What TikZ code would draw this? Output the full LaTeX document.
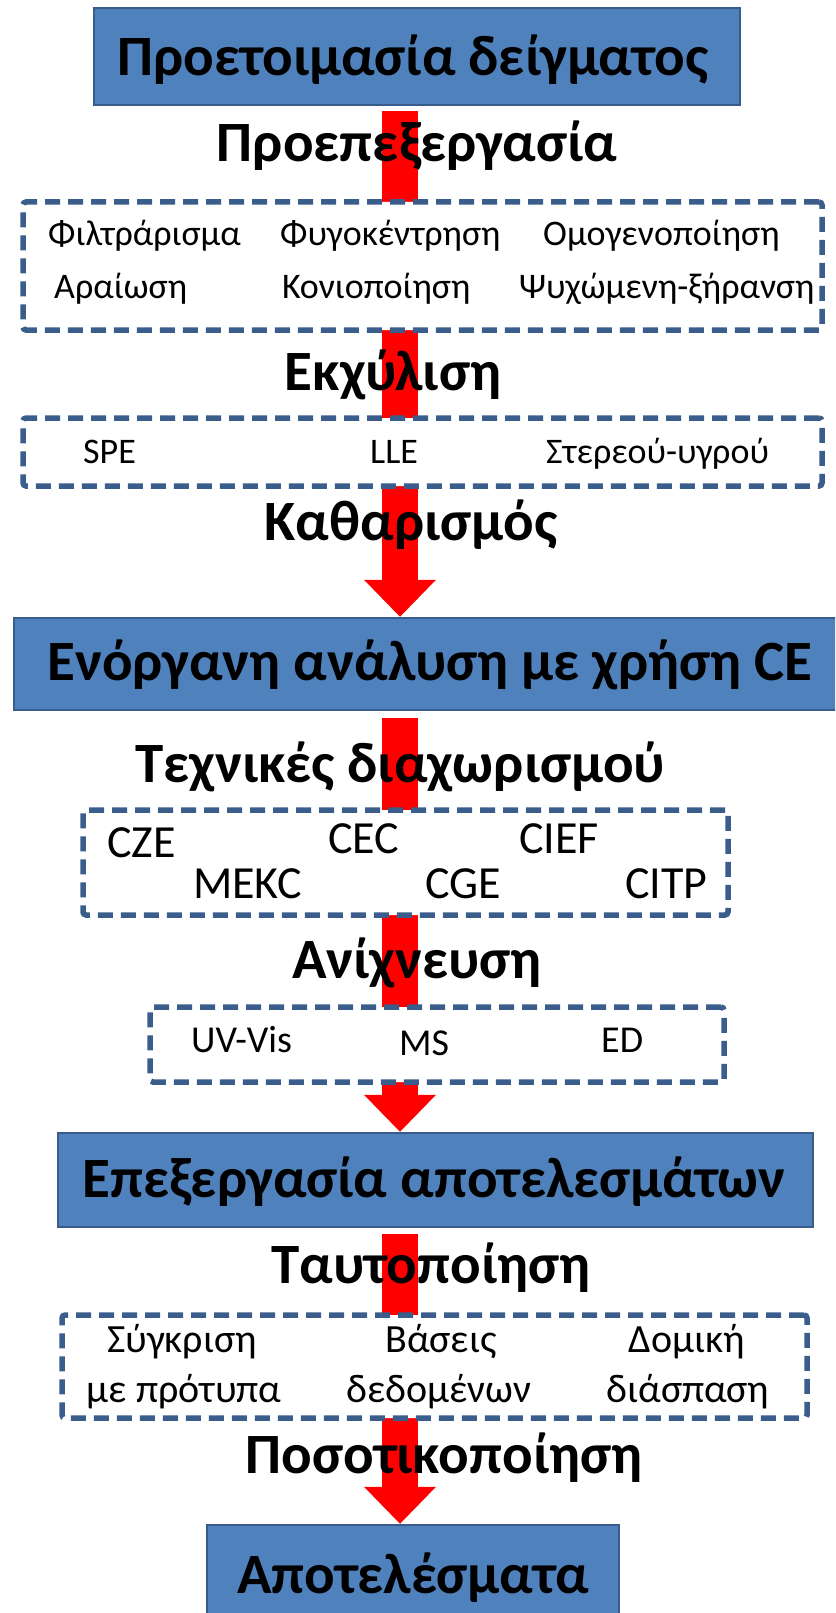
\documentclass[tikz,border=0pt]{standalone}
\usepackage{fontspec}
\setmainfont{Carlito}
\usetikzlibrary{arrows.meta,calc}
\definecolor{boxblue}{HTML}{4F81BD}
\definecolor{boxedge}{HTML}{385D8A}
\definecolor{dashblue}{HTML}{3A5D8C}
\definecolor{flowred}{HTML}{FF0000}
\tikzset{
  stage/.style={draw=boxedge, fill=boxblue, line width=2.5pt, inner sep=0pt},
  group/.style={draw=dashblue, fill=white, line width=5.5pt,
    dash pattern=on 15pt off 8pt, rounded corners=3pt, inner sep=0pt},
  stagetext/.style={font=\bfseries\fontsize{57}{64}\selectfont, anchor=base, inner sep=0pt},
  steplabel/.style={font=\bfseries\fontsize{57}{64}\selectfont, anchor=base, inner sep=0pt},
  item/.style={font=\fontsize{36}{42}\selectfont, anchor=base west, inner sep=0pt},
  ditem/.style={font=\fontsize{38}{44}\selectfont, anchor=base west, inner sep=0pt},
  citem/.style={font=\fontsize{40}{46}\selectfont, anchor=base, inner sep=0pt},
  ceitem/.style={font=\fontsize{46}{52}\selectfont, anchor=base west, inner sep=0pt},
  flow/.style={draw=flowred, line width=36pt,
    -{Triangle[width=72pt,length=37pt,line width=0pt]}},
}
\begin{document}
\begin{tikzpicture}[x=1pt,y=-1pt]
\useasboundingbox (0,0) rectangle (835,1613);
\clip (0,0) rectangle (835,1613);

% main stages
\node[stage, minimum width=646pt, minimum height=97pt] (b1) at (417,56.5) {};
\node[stage, minimum width=846pt, minimum height=92pt] (b2) at (437,664) {};
\node[stage, minimum width=755pt, minimum height=94pt] (b3) at (435.5,1180) {};
\node[stage, minimum width=412pt, minimum height=105pt] (b4) at (413,1577.5) {};

% vertical axis of the flow arrows
\coordinate (ax) at (400,0);

% red flow arrows (drawn first, groups and labels sit on top)
\draw[flow] ($(b1.south -| ax)+(0,5)$) -- (b2.north -| ax);
\draw[flow] ($(b2.south -| ax)+(0,7)$) -- (b3.north -| ax);
\draw[flow] ($(b3.south -| ax)+(0,6)$) -- (b4.north -| ax);

% dashed groups of methods
\node[group, minimum width=799pt, minimum height=128pt] (d1) at (422.5,266) {};
\node[group, minimum width=799pt, minimum height=68pt] (d2) at (422.5,452) {};
\node[group, minimum width=645pt, minimum height=105pt] (d3) at (405.5,862.5) {};
\node[group, minimum width=574pt, minimum height=75pt] (d4) at (437,1044.5) {};
\node[group, minimum width=745pt, minimum height=103pt] (d5) at (434.5,1366.5) {};

% stage titles
\node[stagetext] (t1) at (413,76) {Προετοιμασία δείγματος};
\node[stagetext] (t2) at (430,680) {Ενόργανη ανάλυση με χρήση CE};
\node[stagetext] (t3) at (434,1197) {Επεξεργασία αποτελεσμάτων};
\node[stagetext] (t4) at (413,1593) {Αποτελέσματα};

% step labels
\node[steplabel] (s1) at (417,162) {Προεπεξεργασία};
\node[steplabel] (s2) at (393,390) {Εκχύλιση};
\node[steplabel] (s3) at (411,540) {Καθαρισμός};
\node[steplabel] (s4) at (400,782) {Τεχνικές διαχωρισμού};
\node[steplabel] (s5) at (417,978) {Ανίχνευση};
\node[steplabel] (s6) at (431,1283) {Ταυτοποίηση};
\node[steplabel] (s7) at (444,1473) {Ποσοτικοποίηση};

% pretreatment
\node[item] (p1) at (48,246) {Φιλτράρισμα};
\node[item] (p2) at (280,246) {Φυγοκέντρηση};
\node[item] (p3) at (543,246) {Ομογενοποίηση};
\node[item] (p4) at (54,298) {Αραίωση};
\node[item] (p5) at (282,298) {Κονιοποίηση};
\node[item] (p6) at (519,298) {Ψυχώμενη-ξήρανση};

% extraction
\node[item] (e1) at (83,463) {SPE};
\node[item] (e2) at (370,463) {LLE};
\node[item] (e3) at (546,463) {Στερεού-υγρού};

% separation techniques
\node[ceitem] (c1) at (107,857) {CZE};
\node[ceitem] (c2) at (328,853) {CEC};
\node[ceitem] (c3) at (519,853) {CIEF};
\node[ceitem] (c4) at (193,898) {MEKC};
\node[ceitem] (c5) at (425,898) {CGE};
\node[ceitem] (c6) at (625,898) {CITP};

% detection
\node[ditem] (v1) at (191,1052) {UV-Vis};
\node[ditem] (v2) at (399,1055) {MS};
\node[ditem] (v3) at (601,1052) {ED};

% identification
\node[citem] (i1) at (182,1352) {Σύγκριση};
\node[citem] (i2) at (184,1402) {με πρότυπα};
\node[citem] (i3) at (441,1352) {Βάσεις};
\node[citem] (i4) at (439,1402) {δεδομένων};
\node[citem] (i5) at (687,1352) {Δομική};
\node[citem] (i6) at (688,1402) {διάσπαση};
\end{tikzpicture}
\end{document}
